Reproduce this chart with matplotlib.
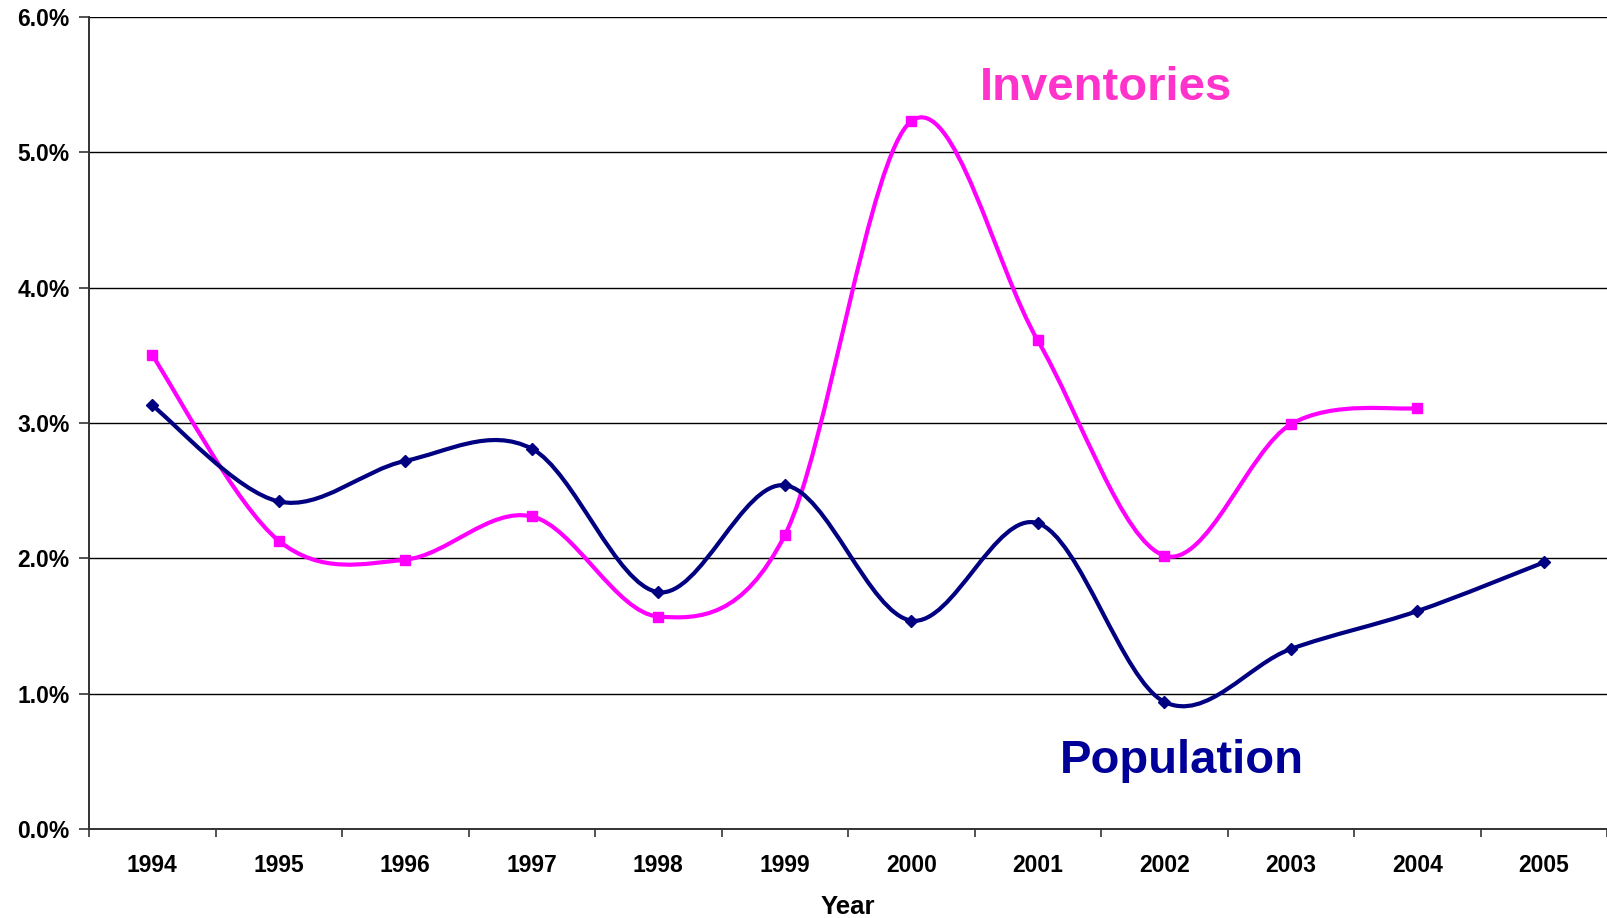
import matplotlib
matplotlib.use('Agg')
import matplotlib.pyplot as plt
from matplotlib.path import Path
from matplotlib.patches import PathPatch
from matplotlib.ticker import FuncFormatter, FixedLocator
import numpy as np

years = ['1994', '1995', '1996', '1997', '1998', '1999',
         '2000', '2001', '2002', '2003', '2004', '2005']
population = [3.13, 2.42, 2.72, 2.81, 1.75, 2.54, 1.54, 2.26, 0.94, 1.33, 1.61, 1.97]
inventories = [3.50, 2.13, 1.99, 2.31, 1.57, 2.17, 5.23, 3.61, 2.02, 2.99, 3.11]

navy = '#000080'
magenta = '#FF00FF'

plt.rcParams['font.family'] = ['Liberation Sans', 'DejaVu Sans']
plt.rcParams['font.weight'] = 'bold'


def smooth_path(xs, ys):
    # Excel-style smoothed line: cubic bezier through every point
    pts = np.column_stack([xs, ys])
    n = len(pts)
    verts = [pts[0]]
    codes = [Path.MOVETO]
    for i in range(n - 1):
        p0 = pts[i - 1] if i > 0 else pts[i]
        p1 = pts[i]
        p2 = pts[i + 1]
        p3 = pts[i + 2] if i + 2 < n else pts[i + 1]
        c1 = p1 + (p2 - p0) / 6.0
        c2 = p2 - (p3 - p1) / 6.0
        verts += [c1, c2, p2]
        codes += [Path.CURVE4] * 3
    return Path(verts, codes)


fig = plt.figure(figsize=(16.07, 9.18), dpi=100)
ax = fig.add_axes([89 / 1607, 1 - 829 / 918, 1 - 89 / 1607, (829 - 17) / 918])

ax.set_xlim(-0.5, len(years) - 0.5)
ax.set_ylim(0, 6)

for vals, col, mk, ms in [(inventories, magenta, 's', 7.5), (population, navy, 'D', 6.5)]:
    xs = np.arange(len(vals))
    patch = PathPatch(smooth_path(xs, vals), facecolor='none', edgecolor=col,
                      lw=3.0, zorder=3, capstyle='round', joinstyle='round')
    ax.add_patch(patch)
    ax.plot(xs, vals, linestyle='none', marker=mk, color=col, ms=ms, zorder=4)

ax.yaxis.set_major_locator(FixedLocator(np.arange(0, 6.01, 1.0)))
ax.yaxis.set_major_formatter(FuncFormatter(lambda v, p: '%.1f%%' % v))
ax.grid(axis='y', color='black', lw=1.0)
ax.set_axisbelow(True)

ax.set_xticks(range(len(years)))
ax.set_xticklabels(years)
ax.set_xticks(np.arange(-0.5, len(years), 1.0), minor=True)
ax.tick_params(axis='x', which='major', length=0, pad=18, labelsize=16.5)
ax.tick_params(axis='x', which='minor', length=6, width=1.2, direction='out', color='#333333')
ax.tick_params(axis='y', length=7, width=1.2, pad=7, labelsize=16.5, color='#333333')

for s in ['top', 'right']:
    ax.spines[s].set_visible(False)
for s in ['left', 'bottom']:
    ax.spines[s].set_color('#333333')
    ax.spines[s].set_linewidth(1.4)

fig.text(848 / 1607, 1 - 907 / 918, 'Year', ha='center', va='center',
         fontsize=18.5, fontweight='bold')

fig.text(1106 / 1607, 1 - 88 / 918, 'Inventories', ha='center', va='center',
         fontsize=34, fontweight='bold', color='#FF33CC')
fig.text(1182 / 1607, 1 - 761 / 918, 'Population', ha='center', va='center',
         fontsize=34, fontweight='bold', color='#000099')

fig.savefig('out.png', dpi=100)
